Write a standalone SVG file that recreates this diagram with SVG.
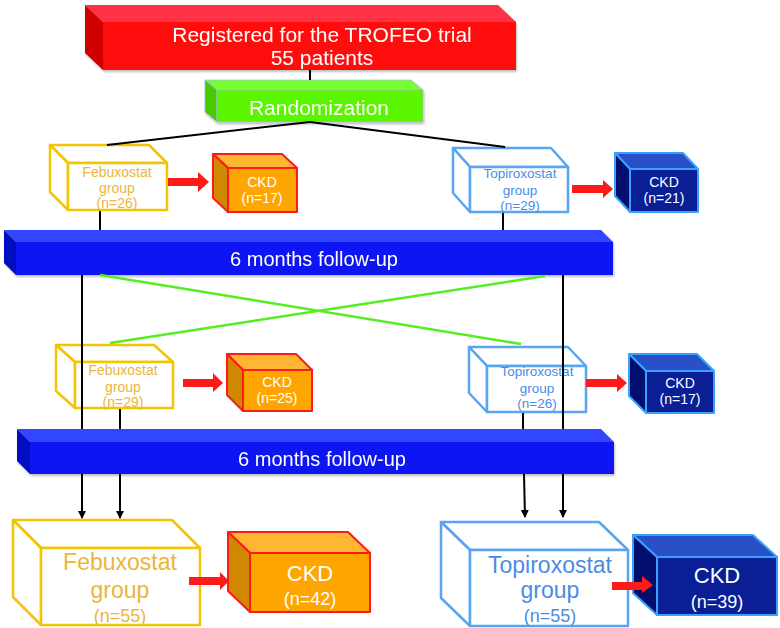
<svg xmlns="http://www.w3.org/2000/svg" width="780" height="628" viewBox="0 0 780 628">
<defs>
<style>
text{font-family:"Liberation Sans",Arial,sans-serif;text-anchor:middle}
.w{fill:#fff}
.ylw{fill:none;stroke:#F5C400;stroke-width:2.5;stroke-linejoin:round}
.ylwf{fill:#fff;stroke:#F5C400;stroke-width:2.5;stroke-linejoin:round}
.ylt{fill:#EDB53C}
.blw{fill:none;stroke:#5AA5F0;stroke-width:2.5;stroke-linejoin:round}
.blwf{fill:#fff;stroke:#5AA5F0;stroke-width:2.5;stroke-linejoin:round}
.blt{fill:#4A8CE6}
.of{fill:#FFA500;stroke:#FF1A1A;stroke-width:2;stroke-linejoin:round}
.ot{fill:#FFB733;stroke:#FF1A1A;stroke-width:2;stroke-linejoin:round}
.ol{fill:#D08800;stroke:#FF1A1A;stroke-width:2;stroke-linejoin:round}
.nf{fill:#0A1E96;stroke:#3AA0FF;stroke-width:2;stroke-linejoin:round}
.nt{fill:#2A50C8;stroke:#3AA0FF;stroke-width:2;stroke-linejoin:round}
.nl{fill:#020E6E;stroke:#3AA0FF;stroke-width:2;stroke-linejoin:round}
.arr{fill:#FF1A1A}
.k{stroke:#000;stroke-width:2;fill:none}
.g{stroke:#55EE22;stroke-width:2.5;fill:none}
</style>
<marker id="ah" markerWidth="8" markerHeight="8" refX="7" refY="4" orient="auto" markerUnits="userSpaceOnUse">
<path d="M0,0 L8,4 L0,8 Z" fill="#000"/>
</marker>
<filter id="sh" x="-5%" y="-5%" width="112%" height="125%">
<feDropShadow dx="1" dy="2" stdDeviation="1.2" flood-color="#000" flood-opacity="0.25"/>
</filter>
</defs>
<rect width="780" height="628" fill="#fff"/>

<g id="registered" filter="url(#sh)">
<polygon points="85,5 498,5 516,22 103,22" fill="#FF3344"/>
<polygon points="85,5 103,22 103,70 85,53" fill="#D00000"/>
<rect x="103" y="22" width="413" height="48" fill="#FF1010"/>
<text class="w" x="322" y="42" font-size="21">Registered for the TROFEO trial</text>
<text class="w" x="322" y="65" font-size="21">55 patients</text>
</g>

<g id="randomization" filter="url(#sh)">
<polygon points="205,80 411,80 423,90 217,90" fill="#77FF33" stroke="#A8B8E0" stroke-width="0.8"/>
<polygon points="205,80 217,90 217,122 205,112" fill="#44CC00" stroke="#A8B8E0" stroke-width="0.8"/>
<rect x="217" y="90" width="206" height="32" fill="#5CF500" stroke="#A8B8E0" stroke-width="0.8"/>
<text class="w" x="319" y="115" font-size="21">Randomization</text>
</g>

<g id="febuxostat1">
<polygon class="ylwf" points="50,145 149,145 167,163 68,163"/>
<polygon class="ylwf" points="50,145 68,163 68,210 50,192"/>
<rect class="ylwf" x="68" y="163" width="99" height="47"/>
<text class="ylt" x="117" y="177" font-size="14">Febuxostat</text>
<text class="ylt" x="117" y="193" font-size="14">group</text>
<text class="ylt" x="117" y="208" font-size="14">(n=26)</text>
</g>

<g id="ckd-feb1">
<polygon class="ot" points="213,154 282,154 297,168 228,168"/>
<polygon class="ol" points="213,154 228,168 228,212 213,198"/>
<rect class="of" x="228" y="168" width="69" height="44"/>
<text class="w" x="262" y="187" font-size="14">CKD</text>
<text class="w" x="262" y="203" font-size="14">(n=17)</text>
</g>

<g id="topiroxostat1">
<polygon class="blwf" points="453,148 551,148 568,167 470,167"/>
<polygon class="blwf" points="453,148 470,167 470,212 453,193"/>
<rect class="blwf" x="470" y="167" width="98" height="45"/>
<text class="blt" x="520" y="178" font-size="13.5">Topiroxostat</text>
<text class="blt" x="520" y="195" font-size="13.5">group</text>
<text class="blt" x="520" y="210" font-size="13.5">(n=29)</text>
</g>

<g id="ckd-top1">
<polygon class="nt" points="615,153 683,153 698,169 630,169"/>
<polygon class="nl" points="615,153 630,169 630,212 615,196"/>
<rect class="nf" x="630" y="169" width="68" height="43"/>
<text class="w" x="664" y="187" font-size="14">CKD</text>
<text class="w" x="664" y="203" font-size="14">(n=21)</text>
</g>

<g id="followup1" filter="url(#sh)">
<polygon points="4,230 601,230 613,242 16,242" fill="#3344FF"/>
<polygon points="4,230 16,242 16,275 4,263" fill="#0008C0"/>
<rect x="16" y="242" width="597" height="33" fill="#0A14F2"/>
<text class="w" x="314" y="266" font-size="20">6 months follow-up</text>
</g>

<g id="febuxostat2">
<polygon class="ylwf" points="56,345 154,345 173,362 75,362"/>
<polygon class="ylwf" points="56,345 75,362 75,408 56,391"/>
<rect class="ylwf" x="75" y="362" width="98" height="46"/>
<text class="ylt" x="123" y="375" font-size="14">Febuxostat</text>
<text class="ylt" x="123" y="392" font-size="14">group</text>
<text class="ylt" x="123" y="407" font-size="14">(n=29)</text>
</g>

<g id="ckd-feb2">
<polygon class="ot" points="227,354 296,354 312,370 243,370"/>
<polygon class="ol" points="227,354 243,370 243,411 227,395"/>
<rect class="of" x="243" y="370" width="69" height="41"/>
<text class="w" x="277" y="387" font-size="14">CKD</text>
<text class="w" x="277" y="403" font-size="14">(n=25)</text>
</g>

<g id="topiroxostat2">
<polygon class="blwf" points="469,347 568,347 586,366 487,366"/>
<polygon class="blwf" points="469,347 487,366 487,412 469,393"/>
<rect class="blwf" x="487" y="366" width="99" height="46"/>
<text class="blt" x="537" y="376" font-size="13.5">Topiroxostat</text>
<text class="blt" x="537" y="393" font-size="13.5">group</text>
<text class="blt" x="537" y="408" font-size="13.5">(n=26)</text>
</g>

<g id="ckd-top2">
<polygon class="nt" points="629,354 697,354 714,371 646,371"/>
<polygon class="nl" points="629,354 646,371 646,413 629,396"/>
<rect class="nf" x="646" y="371" width="68" height="42"/>
<text class="w" x="680" y="388" font-size="14">CKD</text>
<text class="w" x="680" y="404" font-size="14">(n=17)</text>
</g>

<g id="followup2" filter="url(#sh)">
<polygon points="17,429 601,429 614,442 30,442" fill="#3344FF"/>
<polygon points="17,429 30,442 30,474 17,461" fill="#0008C0"/>
<rect x="30" y="442" width="584" height="32" fill="#0A14F2"/>
<text class="w" x="322" y="466" font-size="20">6 months follow-up</text>
</g>

<g id="febuxostat3">
<polygon class="ylwf" points="13,520 172,520 200,548 41,548"/>
<polygon class="ylwf" points="13,520 41,548 41,625 13,597"/>
<rect class="ylwf" x="41" y="548" width="159" height="77"/>
<text class="ylt" x="120" y="570" font-size="23">Febuxostat</text>
<text class="ylt" x="120" y="598" font-size="23">group</text>
<text class="ylt" x="120" y="622" font-size="18">(n=55)</text>
</g>

<g id="ckd-feb3">
<polygon class="ot" points="228,532 348,532 370,553 250,553"/>
<polygon class="ol" points="228,532 250,553 250,612 228,591"/>
<rect class="of" x="250" y="553" width="120" height="59"/>
<text class="w" x="310" y="581" font-size="22">CKD</text>
<text class="w" x="310" y="605" font-size="18">(n=42)</text>
</g>

<g id="topiroxostat3">
<polygon class="blwf" points="441,522 599,522 628,550 470,550"/>
<polygon class="blwf" points="441,522 470,550 470,626 441,598"/>
<rect class="blwf" x="470" y="550" width="158" height="76"/>
<text class="blt" x="550" y="573" font-size="23">Topiroxostat</text>
<text class="blt" x="550" y="598" font-size="23">group</text>
<text class="blt" x="550" y="622" font-size="18">(n=55)</text>
</g>

<g id="ckd-top3">
<polygon class="nt" points="633,535 753,535 777,557 657,557"/>
<polygon class="nl" points="633,535 657,557 657,615 633,593"/>
<rect class="nf" x="657" y="557" width="120" height="58"/>
<text class="w" x="717" y="583" font-size="22">CKD</text>
<text class="w" x="717" y="608" font-size="18">(n=39)</text>
</g>

<g id="connectors">
<line class="k" x1="310" y1="70" x2="310" y2="80"/>
<line class="k" x1="310" y1="122" x2="107" y2="145"/>
<line class="k" x1="310" y1="122" x2="505" y2="147"/>
<line class="k" x1="100" y1="211" x2="100" y2="230"/>
<line class="k" x1="503" y1="213" x2="503" y2="230"/>
<line class="k" x1="82" y1="275" x2="82" y2="429"/>
<line class="k" x1="563" y1="275" x2="563" y2="429"/>
<line class="k" x1="120" y1="409" x2="120" y2="429"/>
<line class="k" x1="523" y1="413" x2="523" y2="429"/>
<line class="g" x1="100" y1="275" x2="521" y2="344"/>
<line class="g" x1="545" y1="276" x2="110" y2="343"/>
<line class="k" x1="82" y1="474" x2="82" y2="518" marker-end="url(#ah)"/>
<line class="k" x1="120" y1="474" x2="120" y2="518" marker-end="url(#ah)"/>
<line class="k" x1="524" y1="474" x2="525" y2="517" marker-end="url(#ah)"/>
<line class="k" x1="563" y1="474" x2="563" y2="517" marker-end="url(#ah)"/>
<polygon class="arr" points="168,178 198,178 198,172 209,182 198,192 198,186 168,186"/>
<polygon class="arr" points="572,185 603,185 603,180 613,189 603,198 603,193 572,193"/>
<polygon class="arr" points="183,379 213,379 213,373 223,383 213,392 213,387 183,387"/>
<polygon class="arr" points="586,379 617,379 617,374 627,383 617,392 617,387 586,387"/>
<polygon class="arr" points="189,577 220,577 220,572 229,581 220,590 220,585 189,585"/>
<polygon class="arr" points="612,582 642,582 642,576 653,585 642,593 642,590 612,590"/>
</g>
</svg>
